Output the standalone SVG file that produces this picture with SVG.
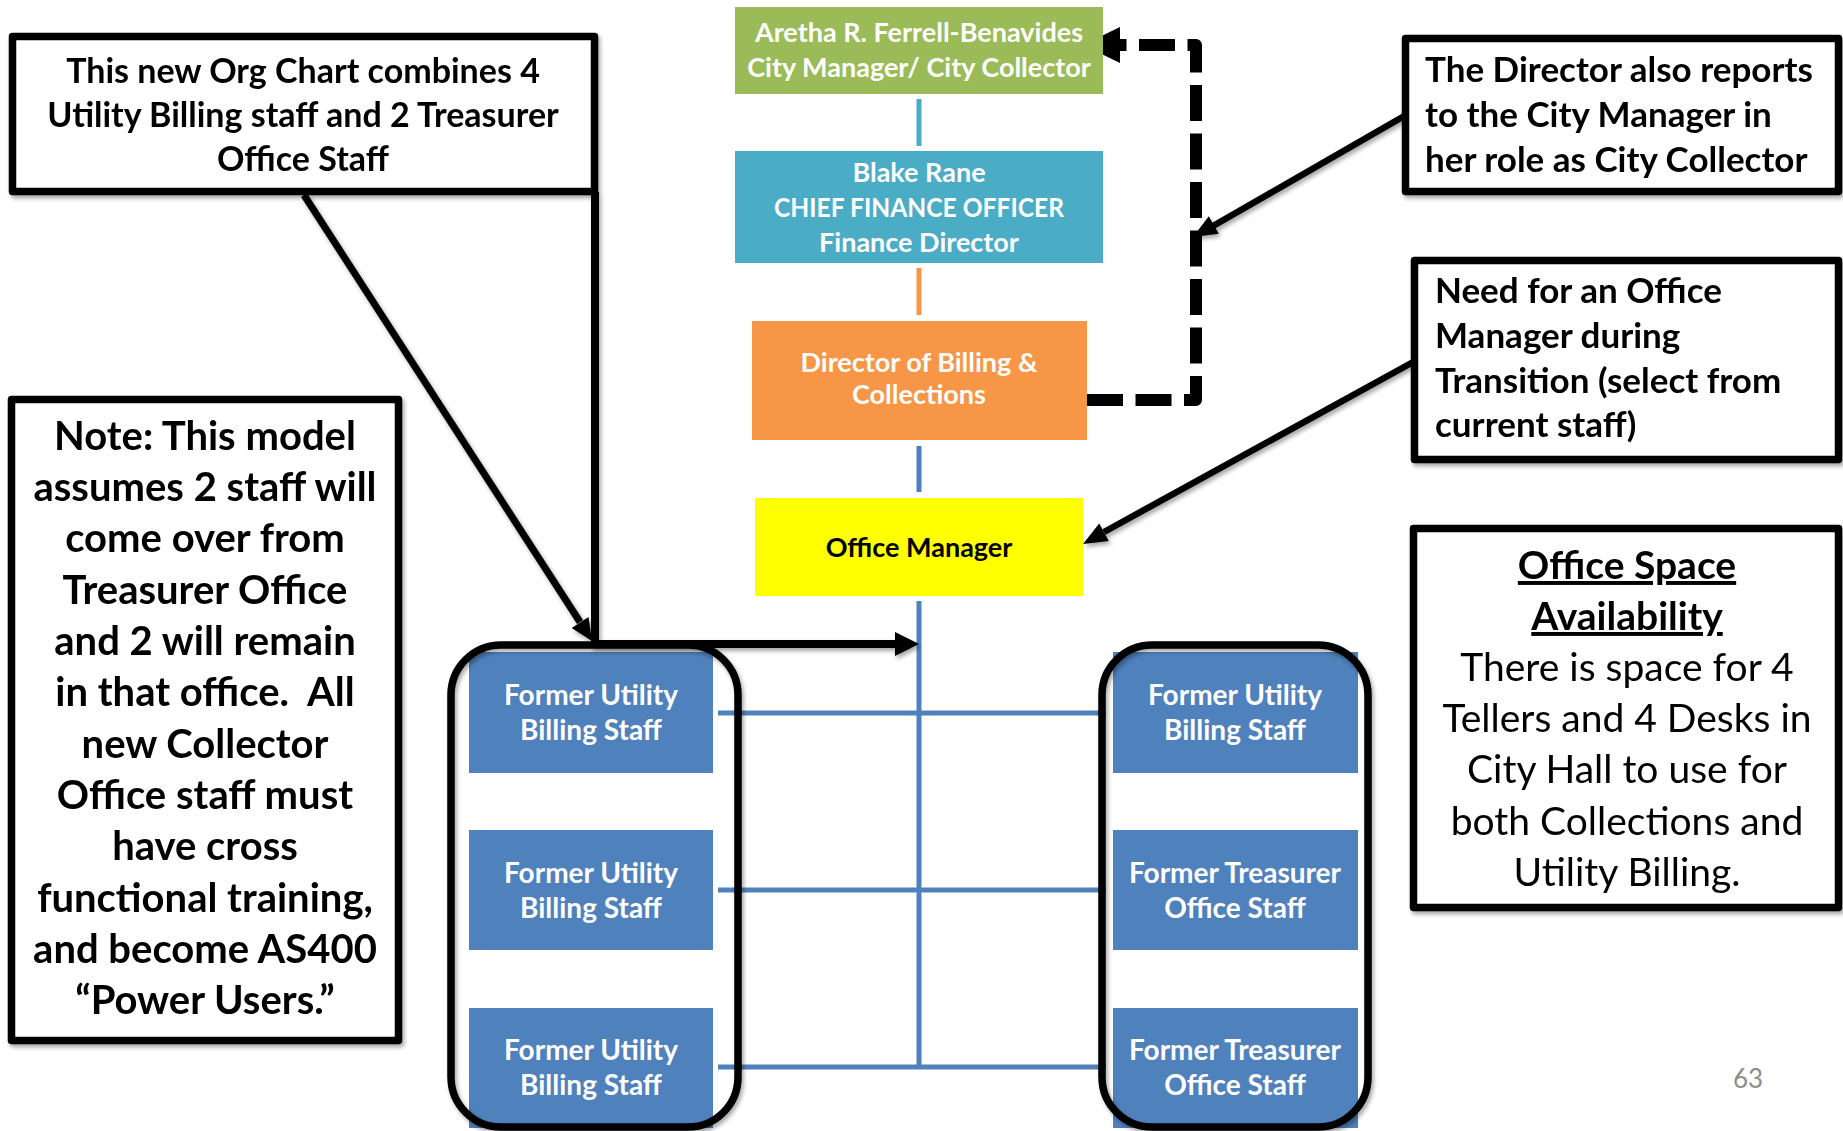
<svg xmlns="http://www.w3.org/2000/svg" width="1843" height="1131" viewBox="0 0 1843 1131">
  <defs>
    <style>
      .t { font-family: Lato, "Open Sans", "Liberation Sans", sans-serif; }
      .nodeTxt { font-weight: 700; font-size: 27px; fill: #ffffff; text-anchor: middle; }
      .staff { fill: #4F81BD; }
      .staffTxt { font-weight: 700; font-size: 28px; fill: #ffffff; text-anchor: middle; }
      .callBox { fill: #ffffff; stroke: #000000; stroke-width: 7.5; stroke-linejoin: round; }
      .callLine { fill: none; stroke: #000000; stroke-width: 6.5; }
      .callTxt { font-weight: 700; font-size: 35px; fill: #000000; }
      .grp { fill: none; stroke: #000000; stroke-width: 7.5; }
      .blueLine { stroke: #4F81BD; stroke-width: 5; fill: none; }
    </style>
    <filter id="shadow" filterUnits="userSpaceOnUse" x="0" y="0" width="1843" height="1131">
      <feDropShadow dx="2" dy="3" stdDeviation="2" flood-color="#000000" flood-opacity="0.35"/>
    </filter>
  </defs>

  <rect width="1843" height="1131" fill="#ffffff"/>

  <!-- org chart connectors -->
  <g id="connectors">
    <line x1="919" y1="99" x2="919" y2="146" stroke="#4BACC6" stroke-width="5"/>
    <line x1="919" y1="268" x2="919" y2="315" stroke="#F79646" stroke-width="5"/>
    <line x1="919" y1="446" x2="919" y2="492" class="blueLine"/>
    <line x1="919" y1="601" x2="919" y2="1069" class="blueLine"/>
    <line x1="718" y1="713" x2="1106" y2="713" class="blueLine"/>
    <line x1="718" y1="890" x2="1106" y2="890" class="blueLine"/>
    <line x1="718" y1="1067" x2="1106" y2="1067" class="blueLine"/>
    <!-- dotted-line reporting: director to city collector -->
    <path d="M1087 400 H1196 V45 H1120" fill="none" stroke="#000000" stroke-width="12" stroke-dasharray="36 12.5" stroke-linejoin="round"/>
    <polygon points="1083,45 1120,27 1120,63" fill="#000000"/>
  </g>

  <!-- chain of command -->
  <g id="city-manager">
    <rect x="735" y="7" width="368" height="87" fill="#9BBB59"/>
    <text class="t nodeTxt" x="919" y="42">Aretha R. Ferrell-Benavides</text>
    <text class="t nodeTxt" x="919" y="77">City Manager/ City Collector</text>
  </g>
  <g id="cfo">
    <rect x="735" y="151" width="368" height="112" fill="#4BACC6"/>
    <text class="t nodeTxt" x="919" y="182">Blake Rane</text>
    <text class="t nodeTxt" x="919" y="217" textLength="290" lengthAdjust="spacingAndGlyphs">CHIEF FINANCE OFFICER</text>
    <text class="t nodeTxt" x="919" y="252">Finance Director</text>
  </g>
  <g id="director">
    <rect x="752" y="321" width="335" height="119" fill="#F79646"/>
    <text class="t nodeTxt" x="919" y="372">Director of Billing &amp;</text>
    <text class="t nodeTxt" x="919" y="404">Collections</text>
  </g>
  <g id="office-manager">
    <rect x="755" y="498" width="328" height="98" fill="#FFFF00"/>
    <text class="t nodeTxt" x="919" y="557" style="fill:#000000">Office Manager</text>
  </g>

  <!-- staff, left column -->
  <g id="staff-l1">
    <rect class="staff" x="469" y="652" width="244" height="121"/>
    <text class="t staffTxt" x="591" y="705">Former Utility</text>
    <text class="t staffTxt" x="591" y="740">Billing Staff</text>
  </g>
  <g id="staff-l2">
    <rect class="staff" x="469" y="830" width="244" height="120"/>
    <text class="t staffTxt" x="591" y="883">Former Utility</text>
    <text class="t staffTxt" x="591" y="918">Billing Staff</text>
  </g>
  <g id="staff-l3">
    <rect class="staff" x="469" y="1008" width="244" height="120"/>
    <text class="t staffTxt" x="591" y="1060">Former Utility</text>
    <text class="t staffTxt" x="591" y="1095">Billing Staff</text>
  </g>

  <!-- staff, right column -->
  <g id="staff-r1">
    <rect class="staff" x="1113" y="652" width="245" height="121"/>
    <text class="t staffTxt" x="1235" y="705">Former Utility</text>
    <text class="t staffTxt" x="1235" y="740">Billing Staff</text>
  </g>
  <g id="staff-r2">
    <rect class="staff" x="1113" y="830" width="245" height="120"/>
    <text class="t staffTxt" x="1235" y="883">Former Treasurer</text>
    <text class="t staffTxt" x="1235" y="918">Office Staff</text>
  </g>
  <g id="staff-r3">
    <rect class="staff" x="1113" y="1008" width="245" height="120"/>
    <text class="t staffTxt" x="1235" y="1060">Former Treasurer</text>
    <text class="t staffTxt" x="1235" y="1095">Office Staff</text>
  </g>

  <!-- rounded outlines grouping each column -->
  <g id="group-left" filter="url(#shadow)">
    <rect class="grp" x="451" y="645" width="287" height="482" rx="50"/>
  </g>
  <g id="group-right" filter="url(#shadow)">
    <rect class="grp" x="1102" y="645" width="266" height="482" rx="50"/>
  </g>

  <!-- callout: combined staff -->
  <g id="callout-combined" filter="url(#shadow)">
    <path class="callLine" d="M595 192 V644 H898" style="stroke-width:8"/>
    <polygon points="919,644 895,632 895,656" fill="#000000"/>
    <line class="callLine" x1="304" y1="195" x2="580" y2="622" style="stroke-width:7"/>
    <polygon points="592,641 571.7,627.9 588.5,617.1" fill="#000000"/>
    <rect class="callBox" x="12.5" y="36.5" width="582" height="155"/>
    <g class="t callTxt" text-anchor="middle" style="font-size:34px">
      <text x="303" y="83">This new Org Chart combines 4</text>
      <text x="303" y="127">Utility Billing staff and 2 Treasurer</text>
      <text x="303" y="171">Office Staff</text>
    </g>
  </g>

  <!-- callout: note on the staffing model -->
  <g id="callout-note" filter="url(#shadow)">
    <rect class="callBox" x="11.5" y="399.5" width="387" height="641"/>
    <g class="t callTxt" text-anchor="middle" style="font-size:40px">
      <text x="205" y="450">Note: This model</text>
      <text x="205" y="501">assumes 2 staff will</text>
      <text x="205" y="552">come over from</text>
      <text x="205" y="604">Treasurer Office</text>
      <text x="205" y="655">and 2 will remain</text>
      <text x="205" y="706">in that office.&#160; All</text>
      <text x="205" y="758">new Collector</text>
      <text x="205" y="809">Office staff must</text>
      <text x="205" y="860">have cross</text>
      <text x="205" y="912">functional training,</text>
      <text x="205" y="963">and become AS400</text>
      <text x="205" y="1014">“Power Users.”</text>
    </g>
  </g>

  <!-- callout: director also reports to city collector -->
  <g id="callout-reports" filter="url(#shadow)">
    <line class="callLine" x1="1406" y1="115" x2="1213" y2="226"/>
    <polygon points="1193,237 1218.8,233.7 1208.8,216.3" fill="#000000"/>
    <rect class="callBox" x="1405.5" y="38.5" width="433" height="153"/>
    <text class="t callTxt" x="1425" y="82">The Director also reports</text>
    <text class="t callTxt" x="1425" y="127">to the City Manager in</text>
    <text class="t callTxt" x="1425" y="172">her role as City Collector</text>
  </g>

  <!-- callout: office manager need -->
  <g id="callout-office-manager" filter="url(#shadow)">
    <line class="callLine" x1="1415" y1="361" x2="1104" y2="532"/>
    <polygon points="1083,544 1108.8,541.1 1099.2,523.6" fill="#000000"/>
    <rect class="callBox" x="1414.5" y="260.5" width="424" height="199"/>
    <text class="t callTxt" x="1435" y="303">Need for an Office</text>
    <text class="t callTxt" x="1435" y="348">Manager during</text>
    <text class="t callTxt" x="1435" y="393">Transition (select from</text>
    <text class="t callTxt" x="1435" y="437">current staff)</text>
  </g>

  <!-- callout: office space -->
  <g id="callout-space" filter="url(#shadow)">
    <rect class="callBox" x="1413.5" y="528.5" width="425" height="379"/>
    <g class="t" text-anchor="middle" style="font-size:39px; fill:#000000">
      <text x="1627" y="579" font-weight="700" text-decoration="underline">Office Space</text>
      <text x="1627" y="630" font-weight="700" text-decoration="underline">Availability</text>
      <text x="1627" y="681">There is space for 4</text>
      <text x="1627" y="732">Tellers and 4 Desks in</text>
      <text x="1627" y="783">City Hall to use for</text>
      <text x="1627" y="835">both Collections and</text>
      <text x="1627" y="886">Utility Billing.</text>
    </g>
  </g>

  <!-- page number -->
  <text class="t" x="1748" y="1088" text-anchor="middle" style="font-size:26px; fill:#8C8C8C">63</text>
</svg>
